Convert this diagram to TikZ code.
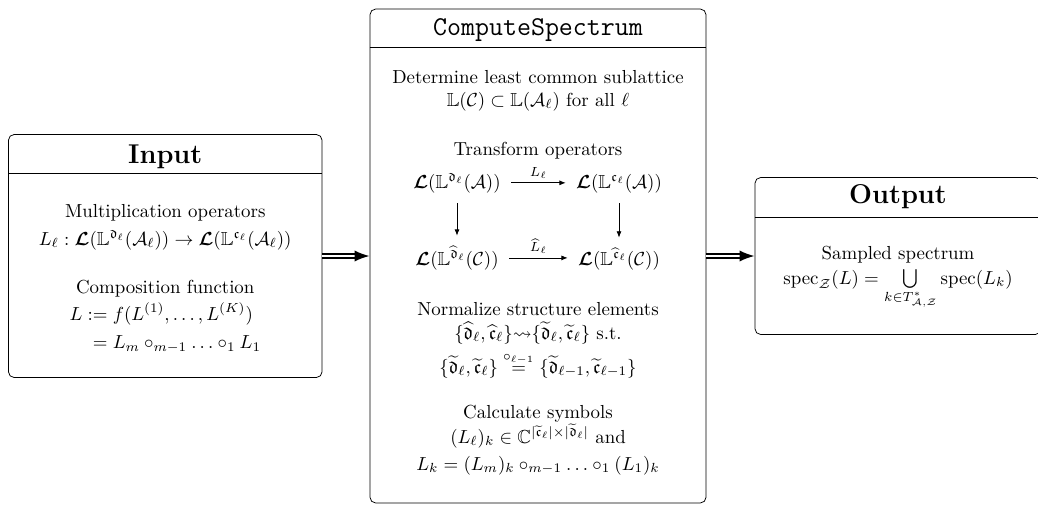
\documentclass[tikz,border=0pt]{standalone}
\usepackage{amsmath,amssymb,bm}
\usetikzlibrary{arrows.meta}
\tikzset{
  box/.style={draw, rounded corners=3pt, inner sep=0pt},
  ttl/.style={anchor=base, font=\Large\bfseries},
  ln/.style={anchor=base},
  flow/.style={double, double distance=1.1pt, line width=1pt, -{Latex[length=8pt,width=6pt]}},
  cd/.style={-{Latex[length=3.3pt,width=2.6pt]}, shorten <=2pt, shorten >=2pt},
  lbl/.style={above, inner sep=2pt},
}
\newcommand{\myL}{\bm{\mathcal{L}}}
\begin{document}
\begin{tikzpicture}[x=0.53pt,y=-0.53pt]
\useasboundingbox (0,0) rectangle (1038,505);
% boxes
\node[box, minimum width=166.2pt, minimum height=128.8pt] (input) at (165.25,256) {};
\node[box, minimum width=178.1pt, minimum height=261.8pt] (comp) at (538,256) {};
\node[box, minimum width=151.6pt, minimum height=83.2pt] (out) at (898,256) {};
% header rules
\coordinate (ih) at (0,173);
\coordinate (ch) at (0,47);
\coordinate (oh) at (0,217);
\draw (input.west |- ih) -- (input.east |- ih);
\draw (comp.west |- ch) -- (comp.east |- ch);
\draw (out.west |- oh) -- (out.east |- oh);
% titles
\node[ttl] (inputT) at (165.25,163) {Input};
\node[ln, font=\Large\ttfamily] (compT) at (538,35) {ComputeSpectrum};
\node[ttl] (outT) at (898,203) {Output};
% input content
\node[ln] (i1) at (165.25,217) {Multiplication operators};
\node[ln] (i2) at (165.25,245) {$L_\ell : \myL(\mathbb{L}^{\mathfrak{d}_\ell}(\mathcal{A}_\ell)) \to \myL(\mathbb{L}^{\mathfrak{c}_\ell}(\mathcal{A}_\ell))$};
\node[ln] (i3) at (165.25,293) {Composition function};
\node[anchor=north] (i4) at (165.25,296) {$\begin{aligned} L :={}& f(L^{(1)},\ldots,L^{(K)})\\ ={}& L_m \circ_{m-1} \ldots \circ_1 L_1\end{aligned}$};
% compute content
\node[ln] (c1) at (538,83) {Determine least common sublattice};
\node[ln] (c2) at (538,106) {$\mathbb{L}(\mathcal{C}) \subset \mathbb{L}(\mathcal{A}_\ell)$ for all $\ell$};
\node[ln] (c3) at (538,155) {Transform operators};
\node[ln] (la) at (457,188) {$\myL(\mathbb{L}^{\mathfrak{d}_\ell}(\mathcal{A}))$};
\node[ln] (lb) at (619,188) {$\myL(\mathbb{L}^{\mathfrak{c}_\ell}(\mathcal{A}))$};
\node[ln] (lc) at (457,265) {$\myL(\mathbb{L}^{\widehat{\mathfrak{d}}_\ell}(\mathcal{C}))$};
\node[ln] (ld) at (619,265) {$\myL(\mathbb{L}^{\widehat{\mathfrak{c}}_\ell}(\mathcal{C}))$};
\draw[cd] (la.east) -- node[lbl] {$\scriptstyle L_\ell$} (la.east -| lb.west);
\draw[cd] (lc.east) -- node[lbl] {$\scriptstyle \widehat{L}_\ell$} (lc.east -| ld.west);
\draw[cd] (la.south) -- (la.south |- lc.north);
\draw[cd] (lb.south) -- (lb.south |- ld.north);
\node[ln] (c4) at (538,315) {Normalize structure elements};
\node[ln] (c5) at (538,339) {$\{\widehat{\mathfrak{d}}_\ell,\widehat{\mathfrak{c}}_\ell\}{\rightsquigarrow}\{\widetilde{\mathfrak{d}}_\ell,\widetilde{\mathfrak{c}}_\ell\}$ s.t.};
\node[ln] (c6) at (538,373) {$\{\widetilde{\mathfrak{d}}_\ell,\widetilde{\mathfrak{c}}_\ell\} \overset{\circ_{\ell-1}}{=} \{\widetilde{\mathfrak{d}}_{\ell-1},\widetilde{\mathfrak{c}}_{\ell-1}\}$};
\node[ln] (c7) at (538,418) {Calculate symbols};
\node[ln] (c8) at (538,443) {$(L_\ell)_k \in \mathbb{C}^{|\widetilde{\mathfrak{c}}_\ell|\times|\widetilde{\mathfrak{d}}_\ell|}$ and};
\node[ln] (c9) at (538,470) {$L_k = (L_m)_k \circ_{m-1} \ldots \circ_1 (L_1)_k$};
% output content
\node[ln] (o1) at (898,259) {Sampled spectrum};
\node[ln] (o2) at (898,284) {$\operatorname{spec}_{\mathcal{Z}}(L) = \bigcup\limits_{k\in T^*_{\mathcal{A},\mathcal{Z}}} \operatorname{spec}(L_k)$};
% flow arrows
\draw[flow] (input.east) -- (comp.west);
\draw[flow] (comp.east) -- (out.west);
\end{tikzpicture}
\end{document}
